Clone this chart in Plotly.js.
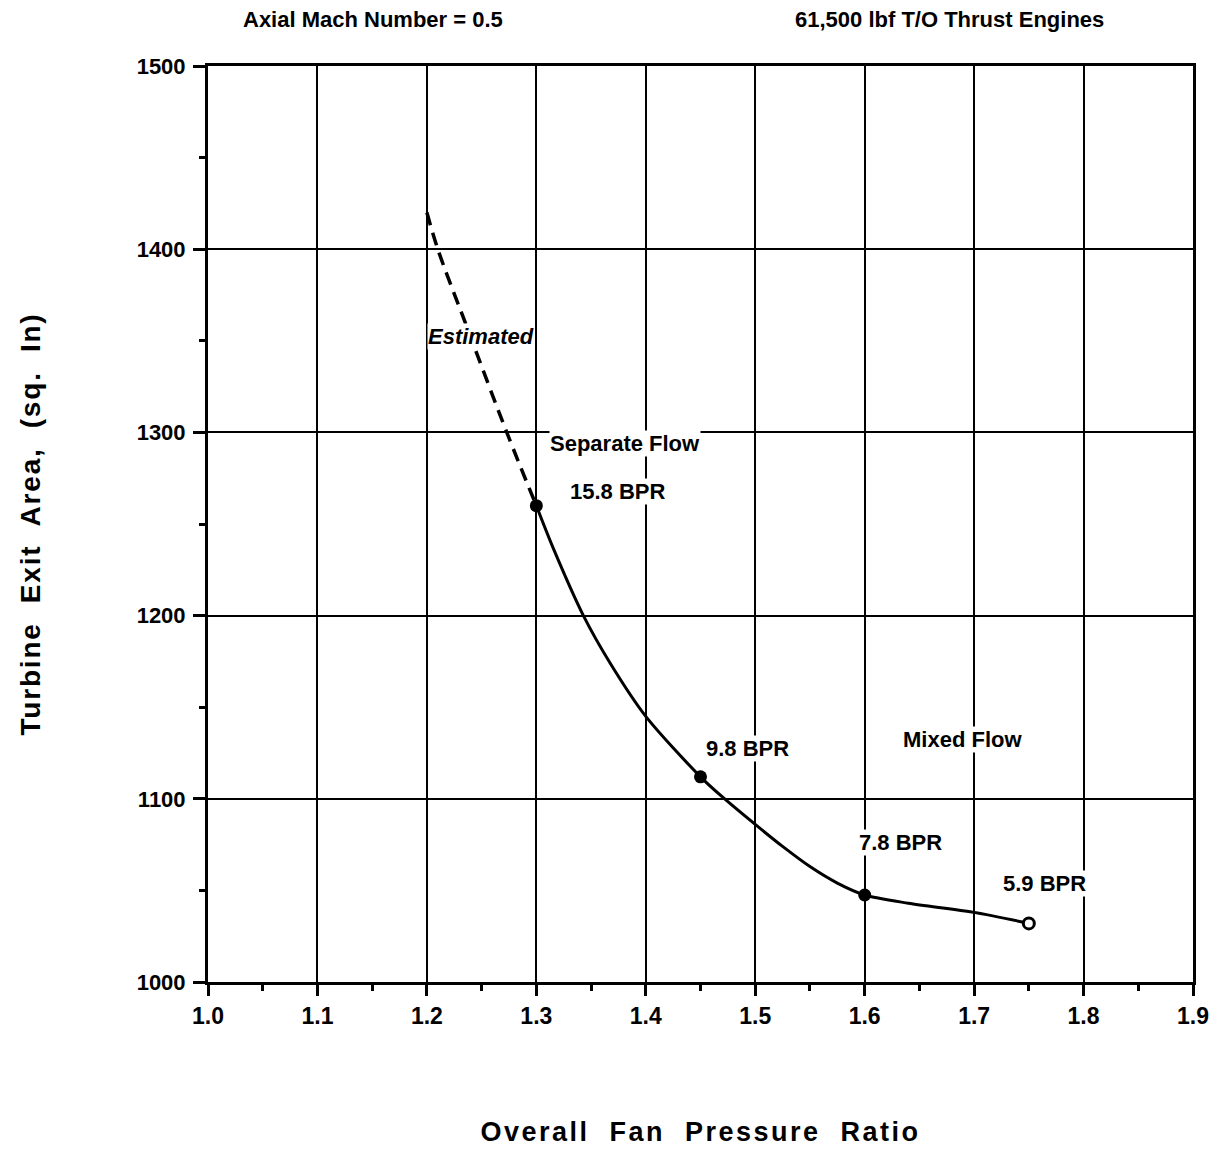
<!DOCTYPE html>
<html>
<head>
<meta charset="utf-8">
<script src="https://cdn.plot.ly/plotly-3.0.1.min.js"></script>
<style>
html,body{margin:0;padding:0;background:#fff;}
#chart{width:1211px;height:1150px;}
.xtitle { letter-spacing: 2.5px; }
.ytitle { letter-spacing: 1.8px; }
</style>
</head>
<body>
<div id="chart"></div>
<script>
// Estimated (dashed) segment
const estX = [1.2, 1.21, 1.235, 1.273, 1.3];
const estY = [1420, 1400, 1360, 1300, 1260];
// Solid curve
const curveX = [1.3, 1.316, 1.343, 1.3675, 1.4, 1.45, 1.47, 1.5, 1.525, 1.55, 1.575, 1.6, 1.64, 1.7, 1.75];
const curveY = [1260, 1236, 1200, 1174, 1145, 1112, 1101, 1086, 1074, 1063, 1054, 1047.5, 1043, 1038, 1032];
// Design points
const ptX = [1.3, 1.45, 1.6];
const ptY = [1260, 1112, 1047.5];
const ptLabels = ["15.8 BPR", "9.8 BPR", "7.8 BPR"];
const openX = [1.75];
const openY = [1032];
const openLabels = ["5.9 BPR"];
// Text annotations
const noteText = ["Estimated", "Separate Flow", "15.8 BPR", "9.8 BPR", "Mixed Flow", "7.8 BPR", "5.9 BPR"];
const noteX = [1.249, 1.381, 1.374, 1.493, 1.689, 1.6325, 1.764];
const noteY = [1352.6, 1294.2, 1268, 1127.7, 1132.6, 1075.9, 1054];
const headerLeft = "Axial Mach Number = 0.5";
const headerRight = "61,500 lbf T/O Thrust Engines";
const xTitle = "Overall\u00a0 Fan\u00a0 Pressure\u00a0 Ratio";
const yTitle = "Turbine\u00a0 Exit\u00a0 Area,\u00a0 (sq.\u00a0 In)";

const FONT = "Liberation Sans, Arial, Helvetica, sans-serif";

const traces = [
  {x: estX, y: estY, mode: "lines", line: {color: "#000", width: 3.5, dash: "13px,8px", shape: "spline"}, hoverinfo: "skip"},
  {x: curveX, y: curveY, mode: "lines", line: {color: "#000", width: 3, shape: "spline", smoothing: 0.8}, hoverinfo: "skip"},
  {x: ptX, y: ptY, mode: "markers", text: ptLabels, marker: {color: "#000", size: 13}},
  {x: openX, y: openY, mode: "markers", text: openLabels, marker: {color: "#fff", size: 11, line: {color: "#000", width: 3}}}
];

const annotations = noteText.map((t, i) => ({
  x: noteX[i], y: noteY[i], xref: "x", yref: "y", showarrow: false,
  xanchor: "center", yanchor: "middle",
  text: i === 0 ? "<i>" + t + "</i>" : t,
  font: {family: FONT, size: 22, color: "#000", weight: "bold"},
  bgcolor: "#fff", borderpad: 0
}));
// header positions (pixels converted to paper units of the plot area 208..1193, 66..982)
annotations.push({x: (373 - 208) / 985, y: 1 + (66 - 19) / 916, xref: "paper", yref: "paper",
  xanchor: "center", yanchor: "middle", showarrow: false, text: headerLeft,
  font: {family: FONT, size: 22, color: "#000", weight: "bold"}});
annotations.push({x: (949 - 208) / 985, y: 1 + (66 - 19) / 916, xref: "paper", yref: "paper",
  xanchor: "center", yanchor: "middle", showarrow: false, text: headerRight,
  font: {family: FONT, size: 22, color: "#000", weight: "bold"}});

const layout = {
  width: 1211, height: 1150,
  margin: {l: 208, r: 18, t: 66, b: 168},
  paper_bgcolor: "#fff", plot_bgcolor: "#fff",
  showlegend: false,
  font: {family: FONT, color: "#000"},
  xaxis: {
    range: [1.0, 1.9], dtick: 0.1, tick0: 1.0, tickformat: ".1f",
    showgrid: true, gridcolor: "#000", gridwidth: 2,
    showline: true, linecolor: "#000", linewidth: 3, mirror: true,
    zeroline: false, ticks: "outside", ticklen: 11, tickwidth: 3, tickcolor: "#000",
    tickfont: {family: FONT, size: 23, weight: "bold"},
    minor: {dtick: 0.05, tick0: 1.0, ticks: "outside", ticklen: 6, tickwidth: 3, tickcolor: "#000", showgrid: false},
    title: {text: xTitle, standoff: 95, font: {family: FONT, size: 27, weight: "bold"}},
    automargin: false
  },
  yaxis: {
    range: [1000, 1500], dtick: 100, tick0: 1000, tickformat: "d",
    showgrid: true, gridcolor: "#000", gridwidth: 2,
    showline: true, linecolor: "#000", linewidth: 3, mirror: true,
    zeroline: false, ticks: "outside", ticklen: 12, tickwidth: 3, tickcolor: "#000",
    tickfont: {family: FONT, size: 22, weight: "bold"}, ticklabelstandoff: 3,
    minor: {dtick: 50, tick0: 1000, ticks: "outside", ticklen: 6, tickwidth: 3, tickcolor: "#000", showgrid: false},
    title: {text: yTitle, standoff: 88, font: {family: FONT, size: 28, weight: "bold"}},
    automargin: false
  },
  annotations: annotations
};

Plotly.newPlot("chart", traces, layout, {displayModeBar: false, staticPlot: true});
</script>
</body>
</html>
